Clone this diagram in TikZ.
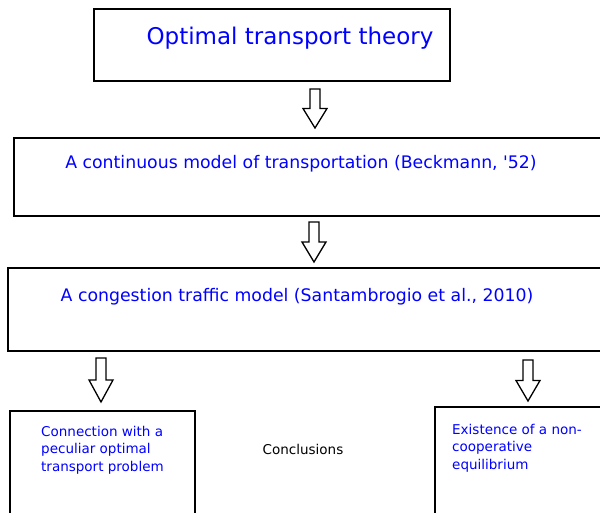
\documentclass[tikz,border=0pt]{standalone}
\usepackage{fontspec}
\setmainfont{DejaVu Sans}[Ligatures=TeXOff]
\begin{document}
\begin{tikzpicture}[x=1pt,y=-1pt,
  box/.style={draw,rectangle,line width=1.8pt,inner sep=0pt,anchor=north west},
  bluetxt/.style={text=blue,inner sep=0pt},
  hollowarr/.style={draw,line width=1.3pt,fill=white,line join=miter}]
\useasboundingbox (0,0) rectangle (600,512);
\pgfmathsetmacro{\kshaft}{5}
\pgfmathsetmacro{\khead}{12}
% boxes
\foreach \bx/\by/\bw/\bh/\bn in {93/8/356/72/otbox,13/137/607/78/bmbox,7/267/613/83/ctbox,9/410/185/120/ccbox,434/406/200/120/eqbox}{\node[box,minimum width=\bw pt,minimum height=\bh pt](\bn) at (\bx,\by){};}
% texts
\node[bluetxt,font=\fontsize{23}{27}\selectfont](ottxt) at (290,38){Optimal transport theory};
\node[bluetxt,font=\fontsize{17.3}{20}\selectfont](bmtxt) at (301,164){A continuous model of transportation (Beckmann, '52)};
\node[bluetxt,font=\fontsize{17.3}{20}\selectfont](cttxt) at (297,297){A congestion traffic model (Santambrogio et al., 2010)};
\node[bluetxt,anchor=north west,align=left,font=\fontsize{13.5}{17.5}\selectfont](cctxt) at (41,426){Connection with a\\peculiar optimal\\transport problem};
\node[bluetxt,anchor=north west,align=left,font=\fontsize{13.5}{17.5}\selectfont](eqtxt) at (452,424){Existence of a non-\\cooperative\\equilibrium};
\node[inner sep=0pt,font=\fontsize{13.5}{17.5}\selectfont](concl) at (303,449){Conclusions};
% hollow arrows
\foreach \ax/\atop/\atip in {315/89/128,314/222/262,101/358/402,528/360/401}{
\pgfmathsetmacro{\amid}{(\atop+\atip)/2}
\draw[hollowarr](\ax-\kshaft,\atop)--(\ax+\kshaft,\atop)--(\ax+\kshaft,\amid)--(\ax+\khead,\amid)--(\ax,\atip)--(\ax-\khead,\amid)--(\ax-\kshaft,\amid)--cycle;}
\end{tikzpicture}
\end{document}
